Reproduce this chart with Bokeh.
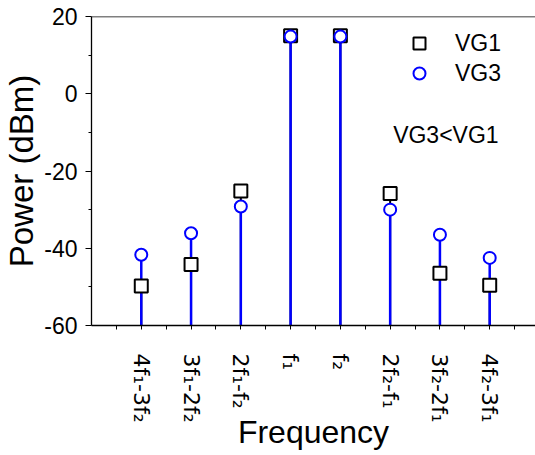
from bokeh.plotting import figure
from bokeh.models import (FixedTicker, Range1d, Legend, LegendItem, Label, Span,
                          ColumnDataSource)
from bokeh.embed import file_html
from bokeh.resources import INLINE

# ---- data ----
categories = ["4f₁-3f₂", "3f₁-2f₂", "2f₁-f₂", "f₁", "f₂", "2f₂-f₁", "3f₂-2f₁", "4f₂-3f₁"]
positions = [1, 2, 3, 4, 5, 6, 7, 8]
vg1 = [-49.8, -44.2, -25.2, 15.0, 15.0, -25.8, -46.5, -49.6]
vg3 = [-41.7, -36.1, -29.2, 14.8, 14.8, -30.0, -36.5, -42.5]
baseline = [-60] * len(positions)
y_major = [-60, -40, -20, 0, 20]
y_major_labels = ["-60", "-40", "-20", "0", "20"]
y_minor = [-50, -30, -10, 10]
x_minor = [0.5, 1.5, 2.5, 3.5, 4.5, 5.5, 6.5, 7.5, 8.5]

FONT = "Liberation Sans"

src = ColumnDataSource(dict(x=positions, vg1=vg1, vg3=vg3, base=baseline))

p = figure(width=535, height=455, output_backend="svg", toolbar_location=None,
           x_range=Range1d(0, 8.92), y_range=Range1d(-60, 20),
           min_border_left=89, min_border_top=16, min_border_bottom=130, min_border_right=0)
p.background_fill_color = "white"
p.border_fill_color = "white"
p.outline_line_color = None
p.xgrid.grid_line_color = None
p.ygrid.grid_line_color = None

# stems
p.segment(x0="x", y0="base", x1="x", y1="vg1", source=src, line_color="black", line_width=2)
p.segment(x0="x", y0="base", x1="x", y1="vg3", source=src, line_color="#0000FF", line_width=2.5)
# markers
r1 = p.scatter(x="x", y="vg1", source=src, marker="square", size=13, fill_color="white",
               line_color="black", line_width=2)
r3 = p.scatter(x="x", y="vg3", source=src, marker="circle", size=12, fill_color="white",
               line_color="#0000FF", line_width=2)

# x axis
xa = p.xaxis[0]
xa.ticker = FixedTicker(ticks=positions, minor_ticks=x_minor)
xa.major_label_overrides = {pos: lab for pos, lab in zip(positions, categories)}
xa.major_label_orientation = "vertical"
xa.major_label_text_font = "DejaVu Sans"
xa.major_label_text_font_size = "22px"
xa.major_label_text_color = "black"
xa.major_label_standoff = 24
xa.major_tick_in = 0
xa.major_tick_out = 4
xa.minor_tick_in = 0
xa.minor_tick_out = 4
xa.axis_label = "Frequency"
xa.axis_label_text_font = FONT
xa.axis_label_text_font_size = "32px"
xa.axis_label_text_font_style = "normal"
xa.axis_label_text_color = "black"
xa.axis_label_standoff = -12
xa.axis_line_color = "black"
xa.axis_line_width = 1.3

# y axis
ya = p.yaxis[0]
ya.ticker = FixedTicker(ticks=y_major, minor_ticks=y_minor)
ya.major_label_overrides = {v: s for v, s in zip(y_major, y_major_labels)}
ya.major_label_text_font = FONT
ya.major_label_text_font_size = "23px"
ya.major_label_text_color = "black"
ya.major_label_standoff = 8
ya.major_tick_in = 0
ya.major_tick_out = 6
ya.minor_tick_in = 0
ya.minor_tick_out = 3
ya.axis_label = "Power (dBm)"
ya.axis_label_text_font = FONT
ya.axis_label_text_font_size = "33px"
ya.axis_label_text_font_style = "normal"
ya.axis_label_text_color = "black"
ya.axis_label_standoff = 1
ya.axis_line_color = "black"
ya.axis_line_width = 1.3

# top frame line
p.add_layout(Span(location=20, dimension="width", line_color="black", line_width=1.3))

# legend
legend = Legend(items=[LegendItem(label="VG1", renderers=[r1]),
                       LegendItem(label="VG3", renderers=[r3])],
                location=(313, 237), border_line_color=None, background_fill_alpha=0,
                label_text_font=FONT, label_text_font_size="23px", label_text_color="black",
                label_standoff=21, glyph_width=30, glyph_height=30, label_height=30,
                spacing=0, padding=0, margin=0)
p.add_layout(legend, "center")

p.add_layout(Label(x=6.06, y=-10.8, text="VG3<VG1", text_font=FONT, text_font_size="23px",
                   text_color="black", text_baseline="alphabetic", text_align="left"))

open("out.html", "w").write(file_html(p, INLINE))
